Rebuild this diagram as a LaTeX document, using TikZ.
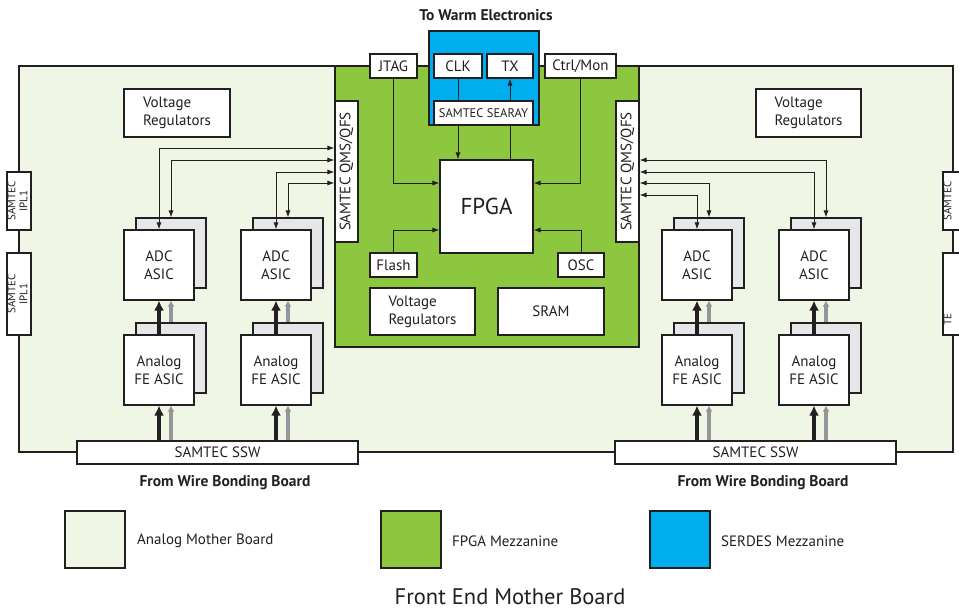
\documentclass[tikz,border=0pt]{standalone}
\usepackage{fontspec}
\setmainfont{PT Sans}
\usepackage{graphicx}
\usetikzlibrary{arrows.meta}
\definecolor{lgreen}{HTML}{EFF6E6}
\definecolor{fgreen}{HTML}{8DC63F}
\definecolor{sblue}{HTML}{00AEEF}
\definecolor{shgray}{HTML}{E6E7E8}
\definecolor{agray}{HTML}{939598}
\definecolor{dk}{HTML}{231F20}
\newcommand\fsz[2]{\fontsize{#1}{#2}\selectfont}
\begin{document}
\begin{tikzpicture}[x=1pt,y=-1pt,
  blk/.style={draw=dk, line width=1.1pt, fill=white, inner sep=0pt, align=center, font=\fsz{15}{18}, text=dk},
  shadowbox/.style={draw=dk, line width=1.1pt, fill=shgray, inner sep=0pt, minimum width=70pt, minimum height=70pt},
  sq/.style={blk, minimum width=70pt, minimum height=70pt},
  smallbox/.style={blk, minimum height=24pt},
  region/.style={draw=dk, line width=1.3pt},
  thinline/.style={draw=dk, line width=0.9pt},
  tarrow/.style={thinline, -{Latex[length=7pt,width=5pt]}},
  biarrow/.style={thinline, {Latex[length=7pt,width=5pt]}-{Latex[length=7pt,width=5pt]}},
  bkarrow/.style={draw=dk, line width=3.4pt, -{Latex[length=10pt,width=10pt]}},
  gyarrow/.style={draw=agray, line width=3.2pt, -{Latex[length=6pt,width=7pt]}},
  lbl/.style={inner sep=0pt, text=dk},
  legbox/.style={draw=dk, line width=1.5pt, minimum width=60pt, minimum height=57pt, inner sep=0pt}
]
\useasboundingbox (0,0) rectangle (959,611);

% boards
\draw[region, fill=lgreen] (19,66) rectangle (953,452);

% IPL connectors
\node[blk, font=\fsz{11}{12}, minimum width=24pt, minimum height=58pt] (iplL1) at (19,201)
  {\rotatebox{90}{\begin{tabular}{@{}c@{}}SAMTEC\\IPL1\end{tabular}}};
\node[blk, font=\fsz{11}{12}, minimum width=24pt, minimum height=82pt] (iplL2) at (19,294)
  {\rotatebox{90}{\begin{tabular}{@{}c@{}}SAMTEC\\IPL1\end{tabular}}};
\node[blk, font=\fsz{11}{12}, minimum width=24pt, minimum height=58pt] (iplR1) at (955,201)
  {\rotatebox{90}{\begin{tabular}{@{}c@{}}SAMTEC\\\phantom{IPL1}\end{tabular}}};
\node[blk, font=\fsz{11}{12}, minimum width=24pt, minimum height=82pt] (iplR2) at (955,294)
  {\rotatebox{90}{\begin{tabular}{@{}l@{}}TE\\\phantom{MULTIGIG XX}\end{tabular}}};

% FPGA mezzanine and SERDES mezzanine
\draw[region, fill=fgreen] (335,66) rectangle (639,347);
\draw[region, fill=sblue] (429,31) rectangle (539,125);

% top boxes
\node[smallbox, minimum width=48pt] (clk) at (458,66) {CLK};
\node[smallbox, minimum width=46pt] (tx) at (510,66) {TX};
\node[smallbox, minimum width=99pt, font=\fsz{12.5}{14}] (searay) at (483.5,113) {SAMTEC SEARAY};
\node[smallbox, minimum width=47pt] (jtag) at (393.5,66) {JTAG};
\node[smallbox, minimum width=71pt] (ctrl) at (580.5,66) {Ctrl/Mon};

% FPGA mezzanine content
\node[blk, minimum width=93pt, minimum height=93pt, font=\fsz{23}{26}] (fpga) at (486.5,206.5) {FPGA};
\node[smallbox, minimum width=47pt] (flash) at (393.5,265) {Flash};
\node[smallbox, minimum width=46pt] (osc) at (581,265) {OSC};
\node[blk, minimum width=105pt, minimum height=47pt, align=left] (vrF) at (422.5,311.5) {Voltage\\Regulators};
\node[blk, minimum width=106pt, minimum height=47pt] (sram) at (551,311.5) {SRAM};
\node[blk, minimum width=23pt, minimum height=141pt] (qmsL) at (346.5,171.5) {\rotatebox{90}{SAMTEC QMS/QFS}};
\node[blk, minimum width=23pt, minimum height=141pt] (qmsR) at (627.5,171.5) {\rotatebox{90}{SAMTEC QMS/QFS}};

% analog board voltage regulators
\node[blk, minimum width=106pt, minimum height=48pt, align=left] (vrL) at (177,113) {Voltage\\Regulators};
\node[blk, minimum width=105pt, minimum height=48pt, align=left] (vrR) at (808.5,113) {Voltage\\Regulators};

% ASIC stacks
\foreach \n/\x in {1/159,2/276,3/697,4/814}{
  \node[shadowbox] (adcB\n) at (\x+12,253) {};
  \node[sq] (adcA\n) at (\x,265) {ADC\\ASIC};
  \node[shadowbox] (feB\n) at (\x+12,358) {};
  \node[sq] (feA\n) at (\x,370) {Analog\\FE ASIC};
}

% SSW connectors
\node[blk, minimum width=281pt, minimum height=23pt] (sswL) at (217.5,452.5) {SAMTEC SSW};
\node[blk, minimum width=281pt, minimum height=23pt] (sswR) at (755.5,452.5) {SAMTEC SSW};

% data arrows
\foreach \n/\s in {1/sswL,2/sswL,3/sswR,4/sswR}{
  \draw[bkarrow] (feA\n |- \s.north) -- (feA\n.south);
  \draw[gyarrow] (feB\n |- \s.north) -- (feB\n |- feA\n.south);
  \draw[bkarrow] (feA\n.north) -- (adcA\n.south);
  \draw[gyarrow] (feB\n.north) -- (feB\n |- adcA\n.south);
}

% control arrows to QMS/QFS
\draw[biarrow] (adcA1.north) |- (qmsL.west |- 0,148);
\draw[biarrow] (adcB1.north) |- (qmsL.west |- 0,160);
\draw[biarrow] (adcA2.north) |- (qmsL.west |- 0,172);
\draw[biarrow] (adcB2.north) |- (qmsL.west |- 0,183);
\draw[biarrow] (adcB4.north) |- (qmsR.east |- 0,160);
\draw[biarrow] (adcA4.north) |- (qmsR.east |- 0,172);
\draw[biarrow] (adcB3.north) |- (qmsR.east |- 0,183);
\draw[biarrow] (adcA3.north) |- (qmsR.east |- 0,195);

% FPGA connections
\draw[thinline] (clk.south) -- (clk.south |- searay.north);
\draw[tarrow] (tx.south |- searay.north) -- (tx.south);
\draw[tarrow] (clk.south |- searay.south) -- (clk.south |- fpga.north);
\draw[thinline] (tx.south |- fpga.north) -- (tx.south |- searay.south);
\draw[tarrow] (jtag.south) |- (fpga.west |- 0,183);
\draw[tarrow] (flash.north) |- (fpga.west |- 0,230);
\draw[tarrow] (ctrl.south) |- (fpga.east |- 0,183);
\draw[tarrow] (osc.north) |- (fpga.east |- 0,230);

% titles
\node[lbl, font=\bfseries\fsz{15.5}{17}] (warm) at (486,15) {To Warm Electronics};
\node[lbl, font=\bfseries\fsz{15.5}{17}] (wbL) at (225,483) {From Wire Bonding Board};
\node[lbl, font=\bfseries\fsz{15.5}{17}] (wbR) at (763,483) {From Wire Bonding Board};

% legend
\node[legbox, fill=lgreen] (legA) at (95,539.5) {};
\node[legbox, fill=fgreen] (legF) at (411,539.5) {};
\node[legbox, fill=sblue] (legS) at (680,539.5) {};
\node[lbl, anchor=west, font=\fsz{15}{17}] (legAt) at (137,541) {Analog Mother Board};
\node[lbl, anchor=west, font=\fsz{15}{17}] (legFt) at (452,541) {FPGA Mezzanine};
\node[lbl, anchor=west, font=\fsz{15}{17}] (legSt) at (721,541) {SERDES Mezzanine};
\node[lbl, font=\fsz{22.5}{26}] (title) at (510,597) {Front End Mother Board};
\end{tikzpicture}
\end{document}
